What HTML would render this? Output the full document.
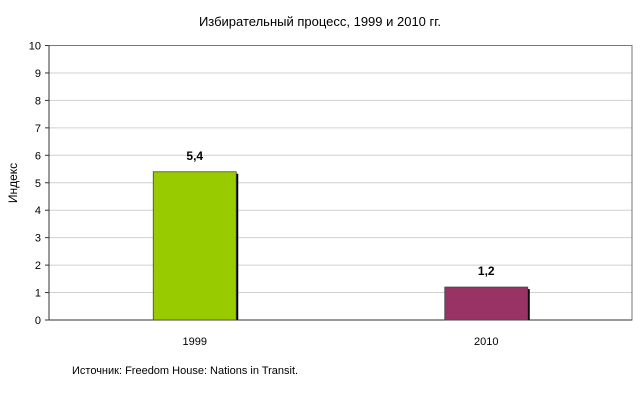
<!DOCTYPE html>
<html><head><meta charset="utf-8"><style>
body{margin:0;background:#fff;}
svg text{font-family:"Liberation Sans",Arial,sans-serif;}
</style></head><body>
<svg width="640" height="400" xmlns="http://www.w3.org/2000/svg">
<text x="320" y="26" text-anchor="middle" font-size="13" fill="#000">Избирательный процесс, 1999 и 2010 гг.</text>
<g id="grid"></g>
<g id="bars"></g>
<text transform="translate(17,183) rotate(-90)" text-anchor="middle" font-size="12">Индекс</text>
<text x="72" y="374" font-size="11">Источник: Freedom House: Nations in Transit.</text>
</svg>
<script>
const categories=["1999","2010"];
const values=[5.4,1.2];
const labels=["5,4","1,2"];
const colors=["#99cc00","#993366"];
const ticks=[0,1,2,3,4,5,6,7,8,9,10];
const L=49,R=632,T=45.5,B=320,ymax=10;
const y=v=>B-(v/ymax)*(B-T);
const bw=(R-L)/categories.length;
const xc=i=>L+bw*(i+0.5);
const NS="http://www.w3.org/2000/svg";
function mk(t,a,p){const e=document.createElementNS(NS,t);for(const k in a)e.setAttribute(k,a[k]);p.appendChild(e);return e;}
const g=document.getElementById("grid"),gb=document.getElementById("bars");
ticks.forEach(t=>{
 if(t>0&&t<ymax){const l=mk("line",{x1:L,x2:R,y1:y(t),y2:y(t),stroke:"#d0d0d0","stroke-width":1},g);
 
 }
 const tk=mk("line",{x1:L-4,x2:L,y1:y(t),y2:y(t),stroke:"#333"},g);
 
 
 const tx=mk("text",{x:L-8,y:y(t)+4,"text-anchor":"end","font-size":"11"},g);tx.textContent=t;
 
 
});
const fr=mk("rect",{x:L,y:T,width:R-L,height:B-T,fill:"none",stroke:"#777","stroke-width":1},g);


const ax=mk("line",{x1:L,x2:L,y1:T,y2:B,stroke:"#333"},g);


const axx=mk("line",{x1:L,x2:R,y1:B,y2:B,stroke:"#333"},g);


categories.forEach((c,i)=>{
 const w=83,x0=xc(i)-w/2,yt=y(values[i]);
 const sh=mk("rect",{x:x0+2,y:yt+2,width:w,height:B-yt-2,fill:"#000"},gb);
 
 
 const b=mk("rect",{x:x0,y:yt,width:w,height:B-yt,fill:colors[i],stroke:"#444","stroke-width":0.8},gb);
 
 
 const v=mk("text",{x:xc(i),y:yt-12,"text-anchor":"middle","font-size":"12","font-weight":"bold"},gb);v.textContent=labels[i];
 
 
 const xl=mk("text",{x:xc(i),y:345,"text-anchor":"middle","font-size":"11"},gb);xl.textContent=c;
 
 
});
</script>
</body></html>
